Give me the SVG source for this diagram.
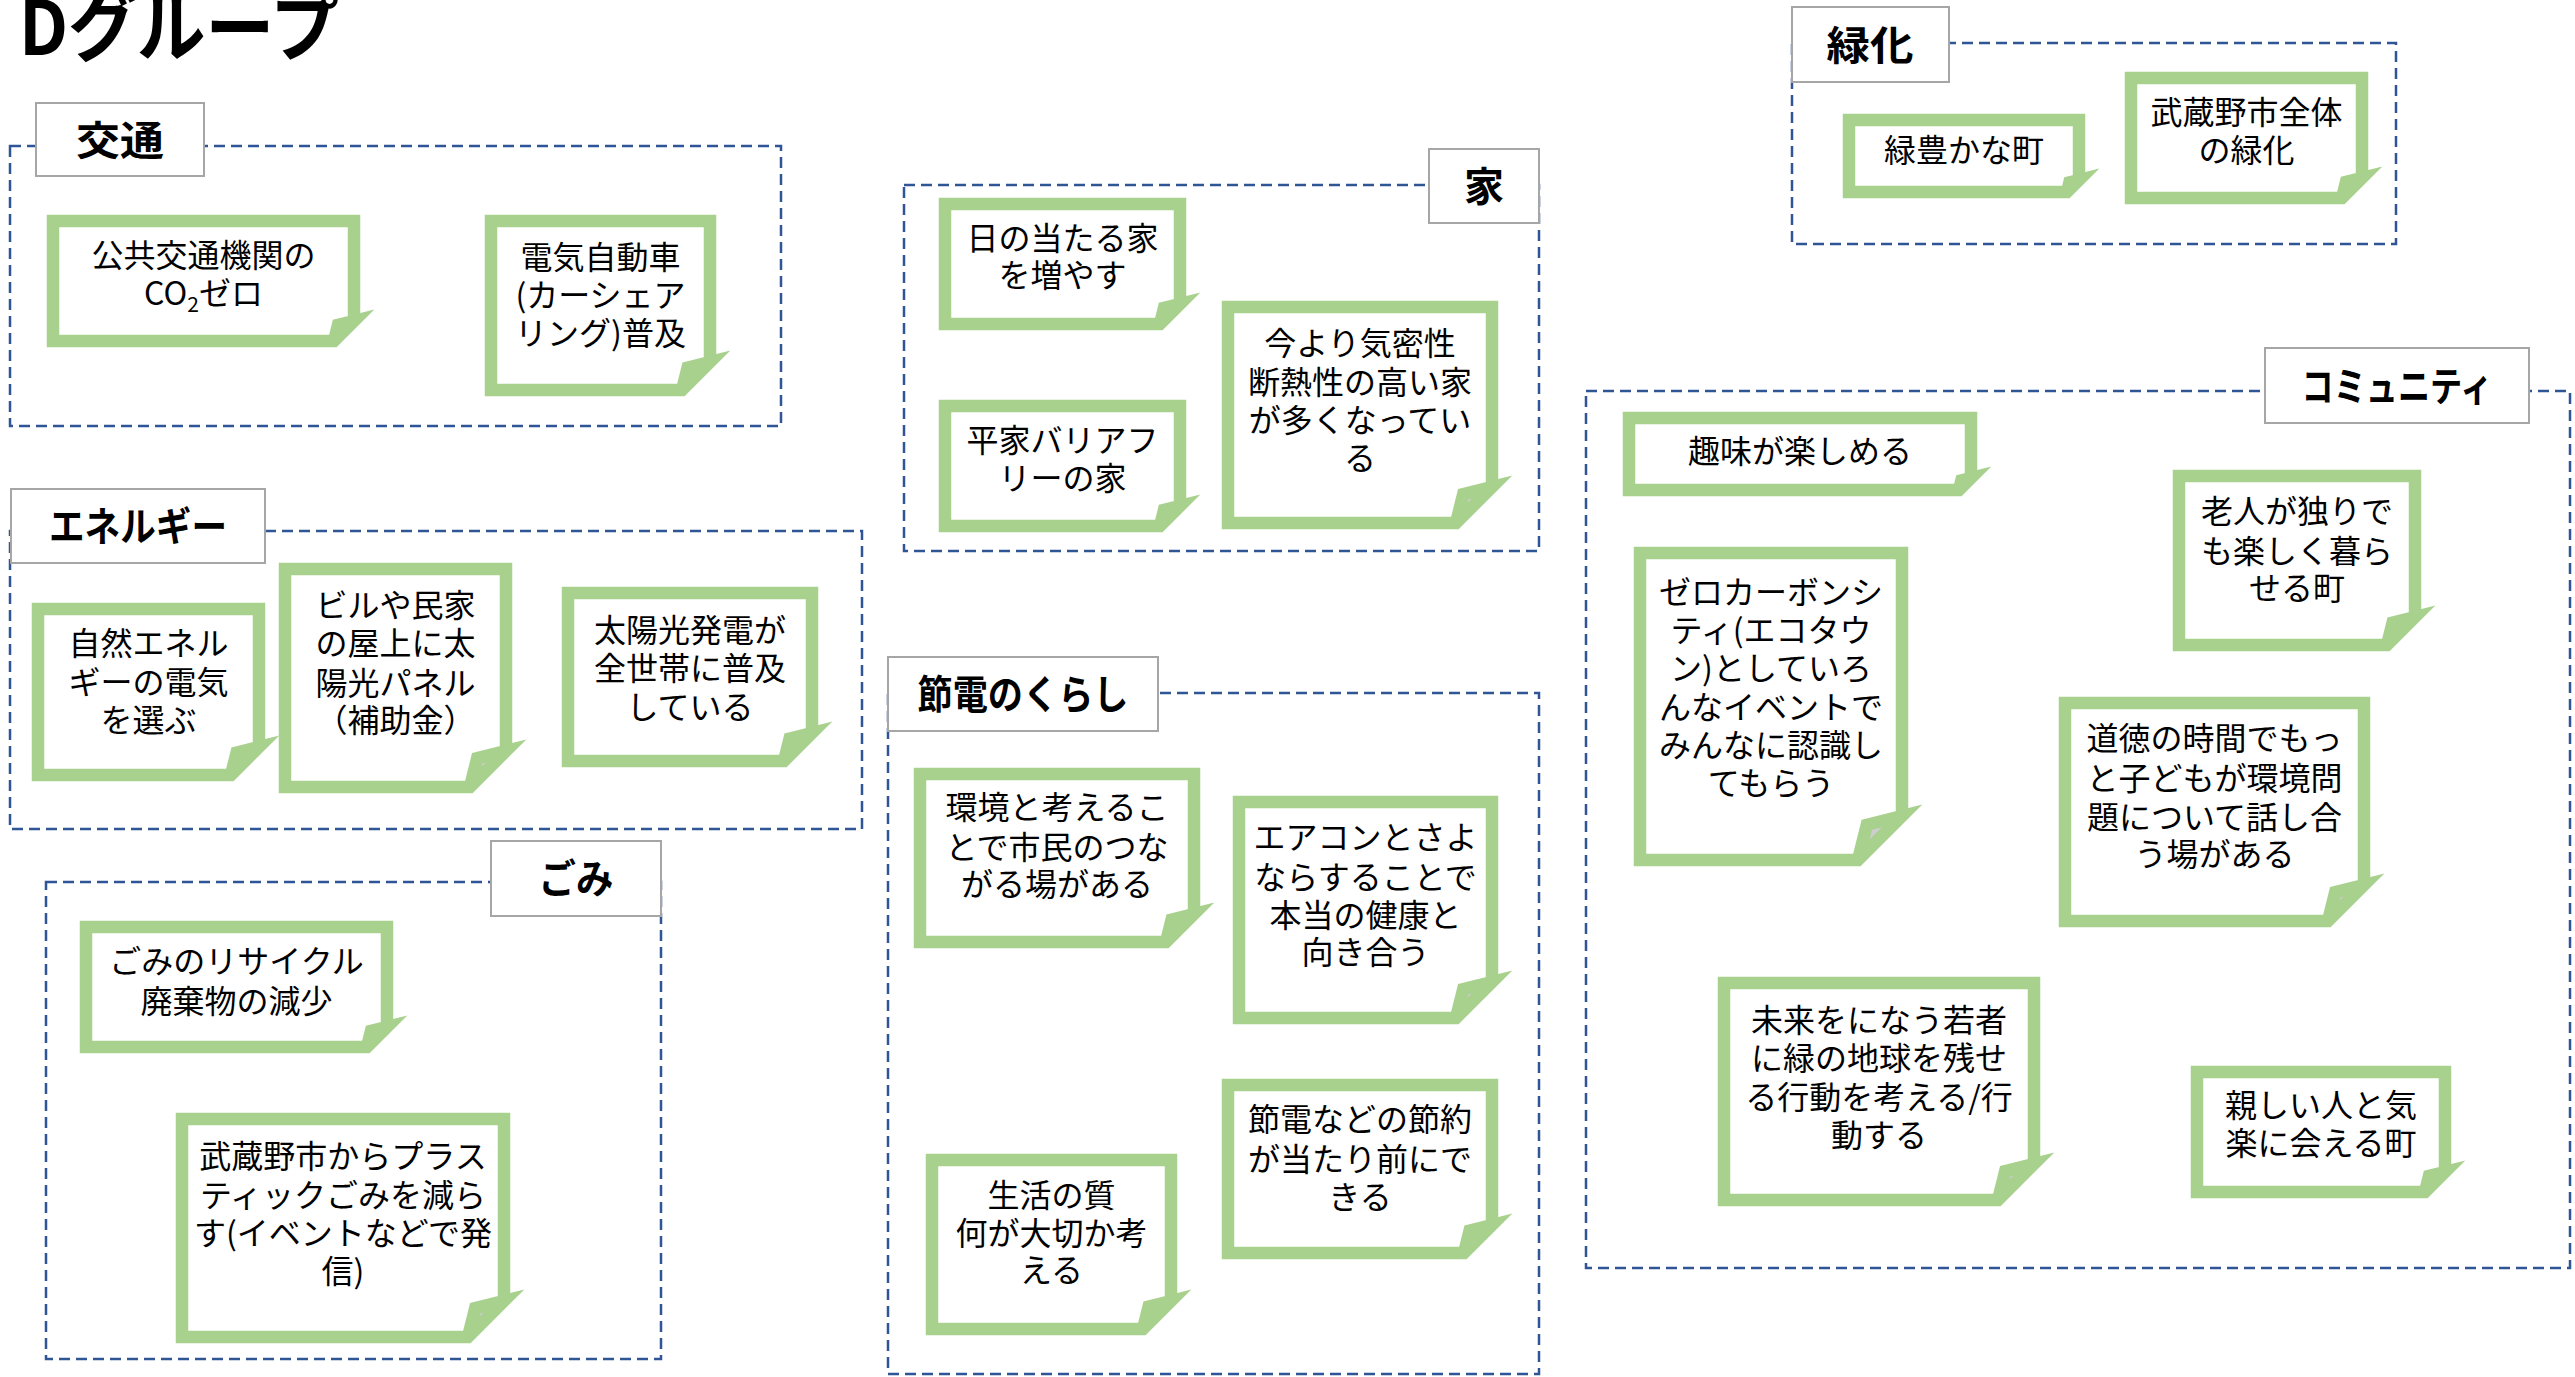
<svg xmlns="http://www.w3.org/2000/svg" width="2575" height="1377" viewBox="0 0 2575 1377">
<style>
.dash{fill:none;stroke:#2f5597;stroke-width:2.5;stroke-dasharray:11 6}
.lbl{fill:#fff;stroke:#a6a6a6;stroke-width:2}
.lt{font-family:'Noto Sans CJK JP','Noto Sans CJK SC',sans-serif;font-weight:bold;font-size:40px;text-anchor:middle;fill:#000}
.nf{fill:#fff}
.fold{fill:#cdcdcd}
.ns{fill:none;stroke:#a9d18e;stroke-width:12.5;stroke-miterlimit:8;stroke-linejoin:miter}
.nt{font-family:'Noto Sans CJK JP','Noto Sans CJK SC',sans-serif;font-size:32px;text-anchor:middle;fill:#000}
.ttl{font-family:'Noto Sans CJK JP','Noto Sans CJK SC',sans-serif;font-weight:bold;font-size:75px;fill:#000}
</style>
<rect width="2575" height="1377" fill="#fff"/>
<text class="ttl" x="19" y="55" textLength="320" lengthAdjust="spacingAndGlyphs">Dグループ</text>

<g id="groups">
<g id="grp-kotsu"><rect class="dash" x="10" y="146" width="771" height="280"/><rect class="lbl" x="36" y="103" width="168" height="73"/><text class="lt" x="120" y="154.5" textLength="88" lengthAdjust="spacingAndGlyphs">交通</text></g>
<g id="grp-energy"><rect class="dash" x="10" y="531" width="852" height="298"/><rect class="lbl" x="11" y="489" width="254" height="74"/><text class="lt" x="138" y="541" textLength="178" lengthAdjust="spacingAndGlyphs">エネルギー</text></g>
<g id="grp-gomi"><rect class="dash" x="46" y="882" width="615" height="477"/><rect class="lbl" x="491" y="841" width="170" height="75"/><text class="lt" x="576" y="893" textLength="75" lengthAdjust="spacingAndGlyphs">ごみ</text></g>
<g id="grp-ie"><rect class="dash" x="904" y="185" width="635" height="366"/><rect class="lbl" x="1429" y="149" width="110" height="74"/><text class="lt" x="1484" y="201">家</text></g>
<g id="grp-setsuden"><rect class="dash" x="888" y="693" width="651" height="681"/><rect class="lbl" x="888" y="657" width="270" height="74"/><text class="lt" x="1023" y="709" textLength="211" lengthAdjust="spacingAndGlyphs">節電のくらし</text></g>
<g id="grp-ryokuka"><rect class="dash" x="1792" y="43" width="604" height="201"/><rect class="lbl" x="1792" y="7" width="157" height="75"/><text class="lt" x="1870" y="59.5" textLength="87" lengthAdjust="spacingAndGlyphs">緑化</text></g>
<g id="grp-community"><rect class="dash" x="1586" y="391" width="984" height="877"/><rect class="lbl" x="2265" y="348" width="264" height="75"/><text class="lt" x="2397" y="400.5" textLength="191" lengthAdjust="spacingAndGlyphs">コミュニティ</text></g>
</g>

<g id="connectors"></g>

<g id="n1"><path class="nf" d="M53 221H354V321L334 341H53Z"/><path class="fold" d="M334 341L338 325L354 321Z"/><path class="ns" d="M334 341L338 325L354 321L334 341H53V221H354V321"/>
<text class="nt"><tspan x="203.5" y="267">公共交通機関の</tspan><tspan x="203.5" y="305">CO<tspan font-size="21" dy="7">2</tspan><tspan dy="-7">ゼロ</tspan></tspan></text></g>

<g id="n2"><path class="nf" d="M491 221H710V362L682 390H491Z"/><path class="fold" d="M682 390L687.6 367.6L710 362Z"/><path class="ns" d="M682 390L687.6 367.6L710 362L682 390H491V221H710V362"/>
<text class="nt"><tspan x="600.5" y="269">電気自動車</tspan><tspan x="600.5" y="307">(カーシェア</tspan><tspan x="600.5" y="345">リング)普及</tspan></text></g>

<g id="n3"><path class="nf" d="M38 609H259V747L231 775H38Z"/><path class="fold" d="M231 775L236.6 752.6L259 747Z"/><path class="ns" d="M231 775L236.6 752.6L259 747L231 775H38V609H259V747"/>
<text class="nt"><tspan x="148.5" y="655">自然エネル</tspan><tspan x="148.5" y="694">ギーの電気</tspan><tspan x="148.5" y="732">を選ぶ</tspan></text></g>

<g id="n4"><path class="nf" d="M285 569H506V751L470 787H285Z"/><path class="fold" d="M470 787L477.2 758.2L506 751Z"/><path class="ns" d="M470 787L477.2 758.2L506 751L470 787H285V569H506V751"/>
<text class="nt"><tspan x="395.5" y="617">ビルや民家</tspan><tspan x="395.5" y="655">の屋上に太</tspan><tspan x="395.5" y="695">陽光パネル</tspan><tspan x="395.5" y="732">（補助金）</tspan></text></g>

<g id="n5"><path class="nf" d="M568 593H812V733L784 761H568Z"/><path class="fold" d="M784 761L789.6 738.6L812 733Z"/><path class="ns" d="M784 761L789.6 738.6L812 733L784 761H568V593H812V733"/>
<text class="nt"><tspan x="690" y="642">太陽光発電が</tspan><tspan x="690" y="680">全世帯に普及</tspan><tspan x="690" y="719">している</tspan></text></g>

<g id="n6"><path class="nf" d="M86 927H387V1027L367 1047H86Z"/><path class="fold" d="M367 1047L371 1031L387 1027Z"/><path class="ns" d="M367 1047L371 1031L387 1027L367 1047H86V927H387V1027"/>
<text class="nt"><tspan x="236.5" y="973">ごみのリサイクル</tspan><tspan x="236.5" y="1013">廃棄物の減少</tspan></text></g>

<g id="n7"><path class="nf" d="M182 1119H504V1301L468 1337H182Z"/><path class="fold" d="M468 1337L475.2 1308.2L504 1301Z"/><path class="ns" d="M468 1337L475.2 1308.2L504 1301L468 1337H182V1119H504V1301"/>
<text class="nt"><tspan x="343" y="1168">武蔵野市からプラス</tspan><tspan x="343" y="1207">ティックごみを減ら</tspan><tspan x="343" y="1245">す(イベントなどで発</tspan><tspan x="343" y="1283">信)</tspan></text></g>

<g id="n8"><path class="nf" d="M945 204H1180V304L1160 324H945Z"/><path class="fold" d="M1160 324L1164 308L1180 304Z"/><path class="ns" d="M1160 324L1164 308L1180 304L1160 324H945V204H1180V304"/>
<text class="nt"><tspan x="1062.5" y="250">日の当たる家</tspan><tspan x="1062.5" y="287">を増やす</tspan></text></g>

<g id="n9"><path class="nf" d="M945 406H1180V506L1160 526H945Z"/><path class="fold" d="M1160 526L1164 510L1180 506Z"/><path class="ns" d="M1160 526L1164 510L1180 506L1160 526H945V406H1180V506"/>
<text class="nt"><tspan x="1062.5" y="452">平家バリアフ</tspan><tspan x="1062.5" y="490">リーの家</tspan></text></g>

<g id="n10"><path class="nf" d="M1228 307H1492V487L1456 523H1228Z"/><path class="fold" d="M1456 523L1463.2 494.2L1492 487Z"/><path class="ns" d="M1456 523L1463.2 494.2L1492 487L1456 523H1228V307H1492V487"/>
<text class="nt"><tspan x="1360" y="355">今より気密性</tspan><tspan x="1360" y="394">断熱性の高い家</tspan><tspan x="1360" y="432">が多くなってい</tspan><tspan x="1360" y="470">る</tspan></text></g>

<g id="n11"><path class="nf" d="M920 774H1194V914L1166 942H920Z"/><path class="fold" d="M1166 942L1171.6 919.6L1194 914Z"/><path class="ns" d="M1166 942L1171.6 919.6L1194 914L1166 942H920V774H1194V914"/>
<text class="nt"><tspan x="1057" y="819">環境と考えるこ</tspan><tspan x="1057" y="859">とで市民のつな</tspan><tspan x="1057" y="896">がる場がある</tspan></text></g>

<g id="n12"><path class="nf" d="M1239 802H1492V982L1456 1018H1239Z"/><path class="fold" d="M1456 1018L1463.2 989.2L1492 982Z"/><path class="ns" d="M1456 1018L1463.2 989.2L1492 982L1456 1018H1239V802H1492V982"/>
<text class="nt"><tspan x="1365.5" y="849">エアコンとさよ</tspan><tspan x="1365.5" y="889">ならすることで</tspan><tspan x="1365.5" y="927">本当の健康と</tspan><tspan x="1365.5" y="964">向き合う</tspan></text></g>

<g id="n13"><path class="nf" d="M1228 1085H1492V1225L1464 1253H1228Z"/><path class="fold" d="M1464 1253L1469.6 1230.6L1492 1225Z"/><path class="ns" d="M1464 1253L1469.6 1230.6L1492 1225L1464 1253H1228V1085H1492V1225"/>
<text class="nt"><tspan x="1360" y="1131">節電などの節約</tspan><tspan x="1360" y="1171">が当たり前にで</tspan><tspan x="1360" y="1209">きる</tspan></text></g>

<g id="n14"><path class="nf" d="M932 1160H1171V1301L1143 1329H932Z"/><path class="fold" d="M1143 1329L1148.6 1306.6L1171 1301Z"/><path class="ns" d="M1143 1329L1148.6 1306.6L1171 1301L1143 1329H932V1160H1171V1301"/>
<text class="nt"><tspan x="1051.5" y="1207">生活の質</tspan><tspan x="1051.5" y="1245">何が大切か考</tspan><tspan x="1051.5" y="1282">える</tspan></text></g>

<g id="n15"><path class="nf" d="M1849 120H2079V180L2067 192H1849Z"/><path class="fold" d="M2067 192L2069.4 182.4L2079 180Z"/><path class="ns" d="M2067 192L2069.4 182.4L2079 180L2067 192H1849V120H2079V180"/>
<text class="nt"><tspan x="1964" y="162">緑豊かな町</tspan></text></g>

<g id="n16"><path class="nf" d="M2131 78H2362V178L2342 198H2131Z"/><path class="fold" d="M2342 198L2346 182L2362 178Z"/><path class="ns" d="M2342 198L2346 182L2362 178L2342 198H2131V78H2362V178"/>
<text class="nt"><tspan x="2246.5" y="124">武蔵野市全体</tspan><tspan x="2246.5" y="162">の緑化</tspan></text></g>

<g id="n17"><path class="nf" d="M1629 418H1971V478L1959 490H1629Z"/><path class="fold" d="M1959 490L1961.4 480.4L1971 478Z"/><path class="ns" d="M1959 490L1961.4 480.4L1971 478L1959 490H1629V418H1971V478"/>
<text class="nt"><tspan x="1800" y="463">趣味が楽しめる</tspan></text></g>

<g id="n18"><path class="nf" d="M1640 553H1902V816L1858 860H1640Z"/><path class="fold" d="M1858 860L1866.8 824.8L1902 816Z"/><path class="ns" d="M1858 860L1866.8 824.8L1902 816L1858 860H1640V553H1902V816"/>
<text class="nt"><tspan x="1771" y="604">ゼロカーボンシ</tspan><tspan x="1771" y="642">ティ(エコタウ</tspan><tspan x="1771" y="680">ン)としていろ</tspan><tspan x="1771" y="719">んなイベントで</tspan><tspan x="1771" y="757">みんなに認識し</tspan><tspan x="1771" y="795">てもらう</tspan></text></g>

<g id="n19"><path class="nf" d="M2179 476H2415V617L2387 645H2179Z"/><path class="fold" d="M2387 645L2392.6 622.6L2415 617Z"/><path class="ns" d="M2387 645L2392.6 622.6L2415 617L2387 645H2179V476H2415V617"/>
<text class="nt"><tspan x="2297" y="523">老人が独りで</tspan><tspan x="2297" y="563">も楽しく暮ら</tspan><tspan x="2297" y="600">せる町</tspan></text></g>

<g id="n20"><path class="nf" d="M2065 703H2364V885L2328 921H2065Z"/><path class="fold" d="M2328 921L2335.2 892.2L2364 885Z"/><path class="ns" d="M2328 921L2335.2 892.2L2364 885L2328 921H2065V703H2364V885"/>
<text class="nt"><tspan x="2214.5" y="750">道徳の時間でもっ</tspan><tspan x="2214.5" y="790">と子どもが環境問</tspan><tspan x="2214.5" y="829">題について話し合</tspan><tspan x="2214.5" y="866">う場がある</tspan></text></g>

<g id="n21"><path class="nf" d="M1724 983H2034V1164L1998 1200H1724Z"/><path class="fold" d="M1998 1200L2005.2 1171.2L2034 1164Z"/><path class="ns" d="M1998 1200L2005.2 1171.2L2034 1164L1998 1200H1724V983H2034V1164"/>
<text class="nt"><tspan x="1879" y="1032">未来をになう若者</tspan><tspan x="1879" y="1070">に緑の地球を残せ</tspan><tspan x="1879" y="1109">る行動を考える/行</tspan><tspan x="1879" y="1147">動する</tspan></text></g>

<g id="n22"><path class="nf" d="M2197 1072H2445V1172L2425 1192H2197Z"/><path class="fold" d="M2425 1192L2429 1176L2445 1172Z"/><path class="ns" d="M2425 1192L2429 1176L2445 1172L2425 1192H2197V1072H2445V1172"/>
<text class="nt"><tspan x="2321" y="1117">親しい人と気</tspan><tspan x="2321" y="1155">楽に会える町</tspan></text></g>
</svg>
